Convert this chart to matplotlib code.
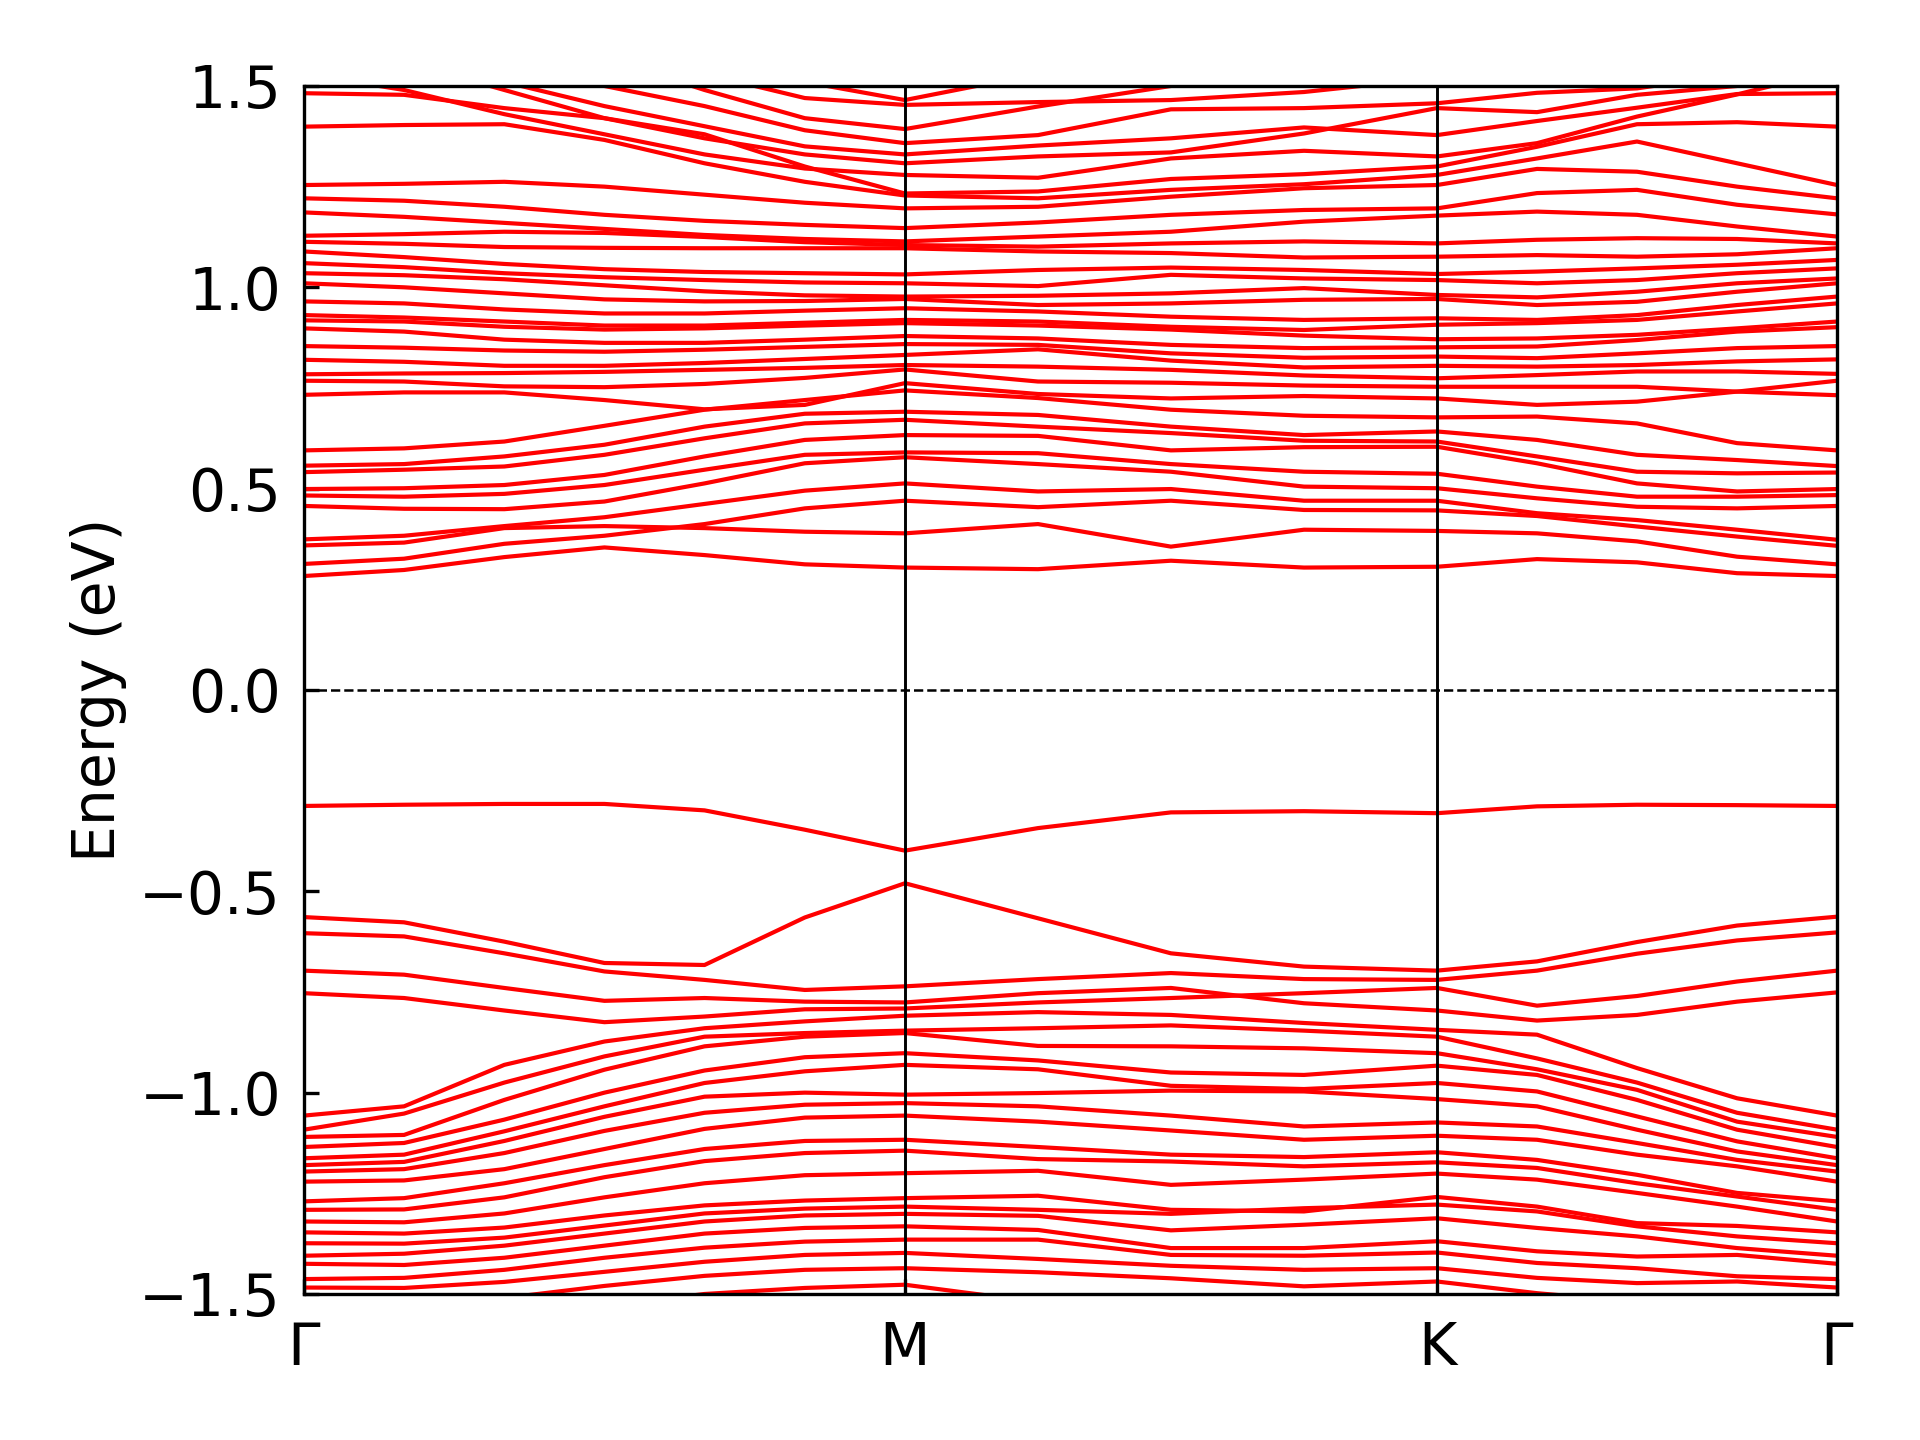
import matplotlib
matplotlib.use("Agg")
import matplotlib.pyplot as plt

# k-path nodes (Gamma-M: 6 steps, M-K: 4 steps, K-Gamma: 4 steps)
k_nodes = [0.0, 0.0653, 0.1307, 0.196, 0.2613, 0.3267, 0.392,
           0.4788, 0.5655, 0.6523, 0.739,
           0.8043, 0.8695, 0.9348, 1.0]
k_ticks = [0.0, 0.392, 0.739, 1.0]
k_labels = ["Γ", "M", "K", "Γ"]

# conduction bands (eV), one row per band, values at k_nodes
cond_bands = [
    [0.283, 0.298, 0.330, 0.354, 0.335, 0.312, 0.304, 0.300, 0.321, 0.304, 0.306, 0.325, 0.317, 0.290, 0.283],
    [0.359, 0.366, 0.402, 0.407, 0.402, 0.393, 0.389, 0.412, 0.356, 0.398, 0.395, 0.389, 0.369, 0.331, 0.312],
    [0.313, 0.326, 0.363, 0.383, 0.412, 0.451, 0.470, 0.454, 0.470, 0.447, 0.446, 0.432, 0.406, 0.381, 0.358],
    [0.374, 0.383, 0.407, 0.429, 0.462, 0.495, 0.513, 0.493, 0.499, 0.470, 0.470, 0.439, 0.422, 0.398, 0.373],
    [0.457, 0.450, 0.449, 0.468, 0.513, 0.563, 0.578, 0.561, 0.542, 0.505, 0.501, 0.476, 0.455, 0.451, 0.457],
    [0.483, 0.480, 0.487, 0.509, 0.547, 0.584, 0.590, 0.588, 0.561, 0.542, 0.537, 0.505, 0.480, 0.480, 0.484],
    [0.499, 0.501, 0.509, 0.534, 0.580, 0.621, 0.633, 0.631, 0.595, 0.603, 0.604, 0.563, 0.513, 0.493, 0.499],
    [0.541, 0.547, 0.555, 0.584, 0.625, 0.662, 0.671, 0.654, 0.638, 0.619, 0.617, 0.580, 0.542, 0.538, 0.540],
    [0.557, 0.561, 0.580, 0.609, 0.654, 0.686, 0.691, 0.683, 0.654, 0.633, 0.642, 0.621, 0.584, 0.571, 0.556],
    [0.595, 0.600, 0.617, 0.656, 0.696, 0.720, 0.744, 0.725, 0.696, 0.681, 0.677, 0.679, 0.662, 0.613, 0.595],
    [0.733, 0.739, 0.739, 0.720, 0.697, 0.708, 0.762, 0.735, 0.724, 0.730, 0.724, 0.708, 0.716, 0.741, 0.768],
    [0.768, 0.766, 0.754, 0.752, 0.760, 0.775, 0.796, 0.766, 0.763, 0.756, 0.753, 0.753, 0.753, 0.741, 0.732],
    [0.784, 0.786, 0.787, 0.790, 0.795, 0.800, 0.807, 0.803, 0.795, 0.781, 0.774, 0.782, 0.791, 0.791, 0.785],
    [0.820, 0.815, 0.805, 0.805, 0.812, 0.822, 0.832, 0.846, 0.818, 0.801, 0.805, 0.803, 0.807, 0.816, 0.821],
    [0.854, 0.850, 0.843, 0.840, 0.845, 0.852, 0.859, 0.857, 0.836, 0.825, 0.828, 0.824, 0.836, 0.849, 0.854],
    [0.898, 0.890, 0.870, 0.862, 0.862, 0.870, 0.879, 0.873, 0.857, 0.849, 0.851, 0.853, 0.869, 0.890, 0.901],
    [0.918, 0.915, 0.902, 0.895, 0.898, 0.905, 0.911, 0.905, 0.895, 0.880, 0.871, 0.873, 0.882, 0.898, 0.915],
    [0.931, 0.925, 0.915, 0.905, 0.905, 0.912, 0.919, 0.915, 0.902, 0.894, 0.907, 0.911, 0.919, 0.940, 0.960],
    [0.965, 0.960, 0.945, 0.935, 0.935, 0.942, 0.948, 0.940, 0.927, 0.919, 0.923, 0.919, 0.931, 0.956, 0.977],
    [1.010, 1.000, 0.985, 0.970, 0.965, 0.966, 0.971, 0.956, 0.960, 0.969, 0.971, 0.956, 0.964, 0.989, 1.010],
    [1.035, 1.030, 1.020, 1.005, 0.990, 0.980, 0.977, 0.979, 0.985, 0.998, 0.981, 0.975, 0.989, 1.010, 1.022],
    [1.060, 1.050, 1.035, 1.025, 1.018, 1.012, 1.010, 1.003, 1.031, 1.022, 1.018, 1.010, 1.018, 1.035, 1.047],
    [1.089, 1.075, 1.058, 1.045, 1.038, 1.035, 1.032, 1.043, 1.049, 1.043, 1.033, 1.039, 1.047, 1.056, 1.068],
    [1.113, 1.108, 1.100, 1.098, 1.097, 1.097, 1.097, 1.089, 1.085, 1.074, 1.076, 1.080, 1.076, 1.082, 1.097],
    [1.128, 1.132, 1.138, 1.135, 1.125, 1.112, 1.105, 1.101, 1.109, 1.114, 1.109, 1.118, 1.122, 1.120, 1.109],
    [1.186, 1.175, 1.160, 1.145, 1.130, 1.120, 1.114, 1.126, 1.138, 1.163, 1.178, 1.188, 1.180, 1.151, 1.126],
    [1.221, 1.215, 1.200, 1.180, 1.165, 1.155, 1.147, 1.161, 1.180, 1.192, 1.196, 1.234, 1.242, 1.205, 1.181],
    [1.254, 1.257, 1.262, 1.250, 1.230, 1.210, 1.196, 1.200, 1.225, 1.246, 1.254, 1.294, 1.287, 1.250, 1.221],
    [1.399, 1.403, 1.405, 1.366, 1.308, 1.262, 1.228, 1.221, 1.242, 1.256, 1.279, 1.320, 1.362, 1.308, 1.254],
    [1.482, 1.478, 1.445, 1.420, 1.380, 1.300, 1.233, 1.238, 1.269, 1.281, 1.300, 1.349, 1.405, 1.410, 1.399],
    [1.530, 1.490, 1.430, 1.380, 1.330, 1.295, 1.279, 1.272, 1.320, 1.339, 1.325, 1.358, 1.424, 1.479, 1.540],
    [1.620, 1.560, 1.490, 1.420, 1.370, 1.330, 1.308, 1.325, 1.335, 1.382, 1.445, 1.435, 1.478, 1.500, 1.560],
    [1.640, 1.580, 1.510, 1.450, 1.400, 1.350, 1.330, 1.352, 1.370, 1.397, 1.378, 1.413, 1.446, 1.480, 1.482],
    [1.700, 1.640, 1.570, 1.500, 1.450, 1.390, 1.358, 1.378, 1.442, 1.445, 1.457, 1.483, 1.494, 1.530, 1.580],
    [1.750, 1.700, 1.640, 1.570, 1.490, 1.420, 1.393, 1.449, 1.500, 1.530, 1.560, 1.580, 1.600, 1.620, 1.650],
    [1.800, 1.750, 1.680, 1.620, 1.530, 1.470, 1.453, 1.460, 1.465, 1.485, 1.520, 1.560, 1.600, 1.620, 1.650],
    [1.850, 1.800, 1.740, 1.660, 1.580, 1.510, 1.465, 1.530, 1.560, 1.580, 1.600, 1.620, 1.650, 1.650, 1.650],
]

# valence bands (eV)
val_bands = [
    [-0.288, -0.285, -0.283, -0.283, -0.299, -0.347, -0.399, -0.343, -0.304, -0.301, -0.306, -0.289, -0.285, -0.286, -0.288],
    [-0.564, -0.577, -0.625, -0.678, -0.683, -0.565, -0.480, -0.567, -0.654, -0.687, -0.697, -0.674, -0.626, -0.585, -0.563],
    [-0.604, -0.612, -0.654, -0.699, -0.720, -0.745, -0.736, -0.718, -0.703, -0.718, -0.720, -0.697, -0.655, -0.622, -0.602],
    [-0.697, -0.707, -0.740, -0.772, -0.765, -0.774, -0.776, -0.753, -0.740, -0.778, -0.796, -0.821, -0.807, -0.774, -0.751],
    [-0.753, -0.765, -0.796, -0.825, -0.811, -0.793, -0.791, -0.776, -0.765, -0.753, -0.740, -0.784, -0.760, -0.724, -0.697],
    [-1.057, -1.034, -0.931, -0.873, -0.840, -0.823, -0.809, -0.800, -0.807, -0.827, -0.844, -0.856, -0.939, -1.014, -1.057],
    [-1.092, -1.052, -0.975, -0.910, -0.861, -0.852, -0.846, -0.840, -0.833, -0.846, -0.861, -0.915, -0.975, -1.050, -1.092],
    [-1.110, -1.105, -1.018, -0.943, -0.885, -0.861, -0.852, -0.884, -0.885, -0.890, -0.902, -0.942, -0.993, -1.072, -1.110],
    [-1.135, -1.125, -1.067, -1.000, -0.945, -0.912, -0.902, -0.920, -0.950, -0.956, -0.933, -0.956, -1.018, -1.092, -1.135],
    [-1.163, -1.154, -1.096, -1.034, -0.976, -0.947, -0.931, -0.942, -0.983, -0.991, -0.976, -0.997, -1.059, -1.121, -1.163],
    [-1.180, -1.172, -1.120, -1.060, -1.010, -1.000, -1.005, -1.001, -0.995, -0.997, -1.016, -1.034, -1.092, -1.146, -1.180],
    [-1.196, -1.190, -1.150, -1.095, -1.050, -1.030, -1.026, -1.034, -1.057, -1.084, -1.074, -1.084, -1.125, -1.167, -1.196],
    [-1.221, -1.218, -1.190, -1.140, -1.090, -1.062, -1.057, -1.072, -1.094, -1.117, -1.107, -1.117, -1.154, -1.183, -1.221],
    [-1.270, -1.262, -1.225, -1.180, -1.140, -1.120, -1.117, -1.135, -1.154, -1.160, -1.148, -1.167, -1.204, -1.249, -1.270],
    [-1.291, -1.290, -1.260, -1.210, -1.170, -1.150, -1.144, -1.165, -1.171, -1.183, -1.173, -1.187, -1.225, -1.258, -1.291],
    [-1.320, -1.322, -1.300, -1.260, -1.225, -1.205, -1.200, -1.194, -1.229, -1.216, -1.201, -1.216, -1.249, -1.283, -1.320],
    [-1.347, -1.350, -1.335, -1.305, -1.280, -1.268, -1.262, -1.256, -1.291, -1.295, -1.259, -1.283, -1.324, -1.331, -1.347],
    [-1.374, -1.375, -1.360, -1.330, -1.300, -1.288, -1.283, -1.291, -1.301, -1.287, -1.278, -1.295, -1.332, -1.357, -1.374],
    [-1.405, -1.400, -1.380, -1.350, -1.320, -1.305, -1.301, -1.306, -1.342, -1.328, -1.312, -1.336, -1.357, -1.386, -1.405],
    [-1.425, -1.428, -1.410, -1.380, -1.350, -1.336, -1.332, -1.341, -1.386, -1.386, -1.369, -1.394, -1.407, -1.403, -1.425],
    [-1.463, -1.460, -1.440, -1.410, -1.385, -1.370, -1.365, -1.365, -1.403, -1.405, -1.397, -1.423, -1.436, -1.456, -1.463],
    [-1.484, -1.485, -1.470, -1.445, -1.420, -1.403, -1.398, -1.413, -1.430, -1.440, -1.436, -1.460, -1.473, -1.469, -1.484],
    [-1.550, -1.540, -1.510, -1.480, -1.455, -1.440, -1.436, -1.446, -1.461, -1.481, -1.469, -1.498, -1.520, -1.530, -1.550],
    [-1.600, -1.590, -1.560, -1.530, -1.500, -1.485, -1.477, -1.520, -1.530, -1.550, -1.560, -1.580, -1.600, -1.600, -1.600],
]

plt.rcParams["font.family"] = ["DejaVu Sans"]
plt.rcParams["font.size"] = 14

fig = plt.figure(figsize=(6.4, 4.8), dpi=300)
ax = fig.add_axes([0.1583, 0.1014, 0.7985, 0.8389])

for band in cond_bands + val_bands:
    ax.plot(k_nodes, band, color="red", lw=1.0)

for kt in k_ticks[1:-1]:
    ax.axvline(kt, color="black", lw=0.7)
ax.axhline(0.0, color="black", lw=0.6, ls="--")

ax.set_xlim(0, 1.0)
ax.set_ylim(-1.5, 1.5)
ax.set_xticks(k_ticks)
ax.set_xticklabels(k_labels)
ax.set_yticks([-1.5, -1.0, -0.5, 0.0, 0.5, 1.0, 1.5])
ax.tick_params(direction="in")
ax.tick_params(axis="x", pad=6.3)
ax.tick_params(axis="y", pad=5.5)
ax.set_ylabel("Energy (eV)", labelpad=3)

fig.savefig("out.png", dpi=300)
